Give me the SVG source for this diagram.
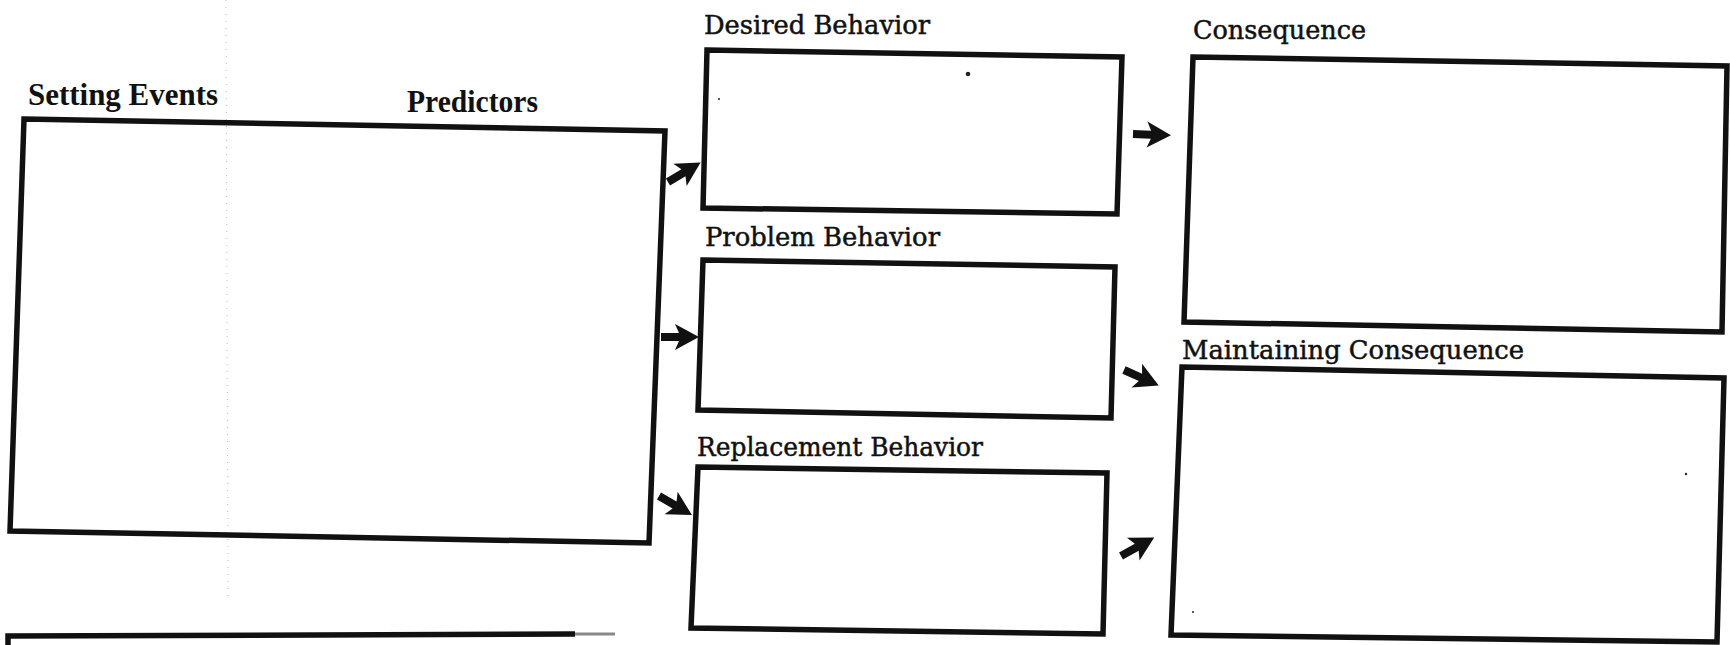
<svg xmlns="http://www.w3.org/2000/svg" xmlns:xlink="http://www.w3.org/1999/xlink" width="1730" height="645" viewBox="0 0 1730 645">
  <style>
    .box { fill: none; stroke: #111; stroke-width: 5.5; stroke-linejoin: miter; }
    .lbl { font-family: "DejaVu Serif", "Liberation Serif", serif; font-size: 26.5px; fill: #111; stroke: #111; stroke-width: 0.5; }
    .blbl { font-family: "Liberation Serif", "DejaVu Serif", serif; font-size: 32px; font-weight: bold; fill: #111; }
    .arrow { fill: #111; }
    .scan { fill: none; stroke: #bbb; stroke-width: 1; stroke-dasharray: 1 6; }
    .dot { fill: #222; }
  </style>
  <defs>
    <path id="arr" class="arrow" d="M0,-4 L18,-4 L14,-13 L38,0 L14,13 L18,4 L0,4 Z"/>
  </defs>
  <rect x="0" y="0" width="1730" height="645" fill="#fff"/>

  <g id="scan-marks">
    <line class="scan" x1="226" y1="0" x2="228" y2="600"/>
    <circle class="dot" cx="968" cy="74" r="2.3"/>
    <circle class="dot" cx="719" cy="99" r="1"/>
    <circle class="dot" cx="1686" cy="474" r="1.2"/>
    <circle class="dot" cx="1193" cy="612" r="1"/>
  </g>

  <g id="setting-events-predictors">
    <polygon class="box" points="24,119 665,131 649,543 10,531"/>
    <text class="blbl" x="28" y="105" textLength="190" lengthAdjust="spacingAndGlyphs">Setting Events</text>
    <text class="blbl" x="407" y="112" textLength="131" lengthAdjust="spacingAndGlyphs">Predictors</text>
  </g>

  <g id="desired-behavior">
    <polygon class="box" points="707,50 1122,57 1117,214 703,208"/>
    <text class="lbl" x="704" y="34" textLength="226" lengthAdjust="spacingAndGlyphs">Desired Behavior</text>
  </g>

  <g id="problem-behavior">
    <polygon class="box" points="703,260 1115,267 1111,418 698,410"/>
    <text class="lbl" x="705" y="246" textLength="235" lengthAdjust="spacingAndGlyphs">Problem Behavior</text>
  </g>

  <g id="replacement-behavior">
    <polygon class="box" points="698,467 1107,473 1103,634 691,628"/>
    <text class="lbl" x="697" y="456" textLength="286" lengthAdjust="spacingAndGlyphs">Replacement Behavior</text>
  </g>

  <g id="consequence">
    <polygon class="box" points="1193,57 1727,66 1722,332 1184,322"/>
    <text class="lbl" x="1193" y="39" textLength="173" lengthAdjust="spacingAndGlyphs">Consequence</text>
  </g>

  <g id="maintaining-consequence">
    <polygon class="box" points="1182,367 1724,378 1717,642 1171,635"/>
    <text class="lbl" x="1182" y="359" textLength="342" lengthAdjust="spacingAndGlyphs">Maintaining Consequence</text>
  </g>

  <g id="bottom-box">
    <polyline class="box" points="8,645 8,636 575,634"/>
    <line x1="575" y1="634" x2="615" y2="634" stroke="#888" stroke-width="3"/>
  </g>

  <g id="connectors">
    <use xlink:href="#arr" transform="translate(668,182) rotate(-31)"/>
    <use xlink:href="#arr" transform="translate(661,337)"/>
    <use xlink:href="#arr" transform="translate(659,496) rotate(30)"/>
    <use xlink:href="#arr" transform="translate(1133,134) rotate(2)"/>
    <use xlink:href="#arr" transform="translate(1124,370) rotate(24)"/>
    <use xlink:href="#arr" transform="translate(1121,556) rotate(-29)"/>
  </g>
</svg>
